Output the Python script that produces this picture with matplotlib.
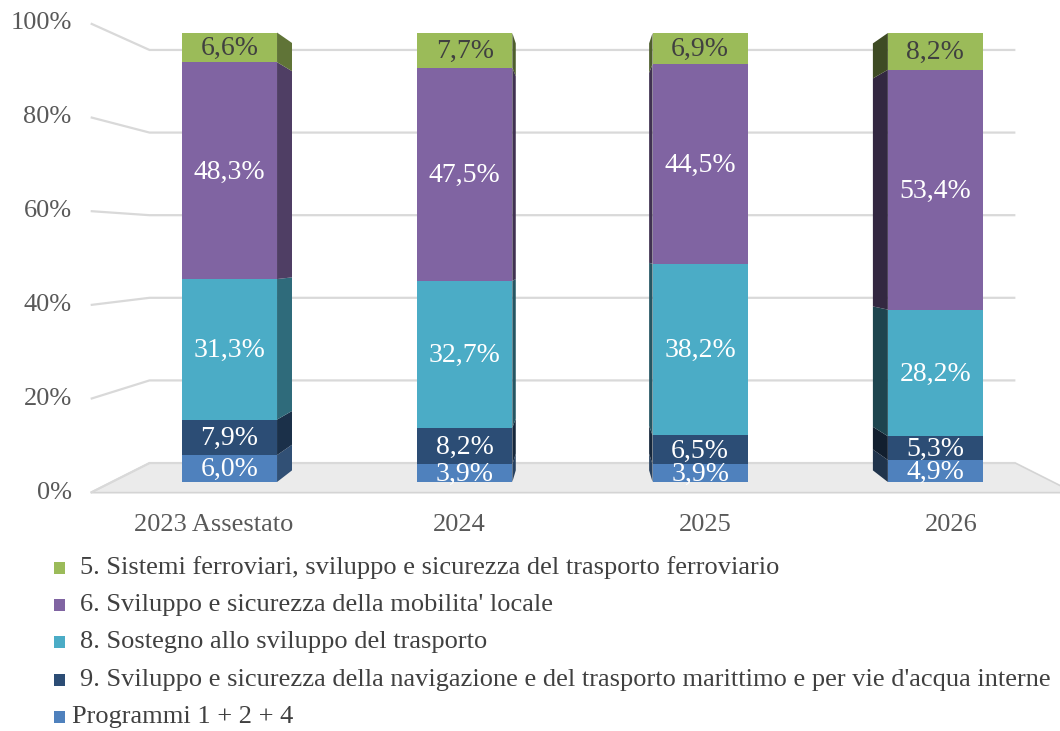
import matplotlib
matplotlib.use("Agg")
import matplotlib.pyplot as plt
from matplotlib.patches import Polygon, Rectangle
import numpy as np

plt.rcParams['font.family'] = ['Liberation Serif', 'DejaVu Serif']

# ---------------- data ----------------
categories = ["2023 Assestato", "2024", "2025", "2026"]
series_names = [
    "Programmi 1 + 2 + 4",
    "9. Sviluppo e sicurezza della navigazione e del trasporto marittimo e per vie d'acqua interne",
    "8. Sostegno allo sviluppo del trasporto",
    "6. Sviluppo e sicurezza della mobilita' locale",
    "5. Sistemi ferroviari, sviluppo e sicurezza del trasporto ferroviario",
]
prog_124 = [6.0, 3.9, 3.9, 4.9]
prog_9 = [7.9, 8.2, 6.5, 5.3]
prog_8 = [31.3, 32.7, 38.2, 28.2]
prog_6 = [48.3, 47.5, 44.5, 53.4]
prog_5 = [6.6, 7.7, 6.9, 8.2]
series_values = [prog_124, prog_9, prog_8, prog_6, prog_5]
colors = ["#4f81bd", "#2c4d75", "#4bacc6", "#8064a2", "#9bbb59"]
label_colors = ["white", "white", "white", "white", "#404040"]
yticks = [0, 20, 40, 60, 80, 100]

# ---------------- layout (perspective) ----------------
W, H = 1060, 731
fig = plt.figure(figsize=(W / 100, H / 100), dpi=100)
ax = fig.add_axes([0, 0, 1, 1])
ax.set_xlim(-0.9754, 3.5296)
ax.set_ylim(-55.46, 107.35)
ax.axis("off")

VPX, VPY = 1.5, 52.78
S_BAR_BACK = 0.951
S_WALL = 0.92
S_FRONT = 1.045
X0, X1 = -0.5, 3.5
BAR_W = 0.404


def proj(x, y, s):
    return VPX + (x - VPX) * s, VPY + (y - VPY) * s


grid_c = "#d9d9d9"

# floor
floor = [proj(X0, 0, S_FRONT), proj(X0, 0, S_WALL), proj(X1, 0, S_WALL), proj(X1, 0, S_FRONT)]
ax.add_patch(Polygon(floor, closed=True, facecolor="#ebebeb", edgecolor="#d4d4d4", lw=1.2, zorder=1))

# gridlines on back wall and side wall
for v in yticks:
    a = proj(X0, v, S_FRONT)
    b = proj(X0, v, S_WALL)
    c = proj(X1, v, S_WALL)
    ax.plot([a[0], b[0], c[0]], [a[1], b[1], c[1]], color=grid_c, lw=1.6, zorder=2,
            solid_capstyle="butt", solid_joinstyle="miter")
    ax.annotate(f"{v}%", xy=a, xytext=(-19, 0), textcoords="offset pixels",
                ha="right", va="center", fontsize=19, color="#595959")

# category labels
for i, cat in enumerate(categories):
    p = proj(i, 0, S_FRONT)
    ax.annotate(cat, xy=p, xytext=(0, -32), textcoords="offset pixels",
                ha="center", va="center", fontsize=19, color="#595959")


def shade(col, f):
    r, g, b = matplotlib.colors.to_rgb(col)
    return (r * f, g * f, b * f)


# bars
x = np.arange(len(categories))
bottom = np.zeros(len(categories))
for k, vals in enumerate(series_values):
    vals = np.array(vals)
    ax.bar(x, vals, bottom=bottom, width=BAR_W, color=colors[k], zorder=5, linewidth=0)
    for i in range(len(categories)):
        y0, y1 = bottom[i], bottom[i] + vals[i]
        if x[i] < VPX:
            xe = x[i] + BAR_W / 2
            f = 0.62 if x[i] < 0.5 else 0.5
        else:
            xe = x[i] - BAR_W / 2
            f = 0.4 if x[i] > 2.5 else 0.5
        poly = [proj(xe, y0, 1), proj(xe, y1, 1), proj(xe, y1, S_BAR_BACK), proj(xe, y0, S_BAR_BACK)]
        ax.add_patch(Polygon(poly, closed=True, facecolor=shade(colors[k], f), edgecolor="none", zorder=4))
        ax.text(x[i], (y0 + y1) / 2 - 0.3, f"{vals[i]:.1f}%".replace(".", ","), ha="center", va="center",
                fontsize=20, color=label_colors[k], zorder=6)
    bottom = bottom + vals

# legend (manual, top-to-bottom order)
leg_y = [568, 605, 642, 680, 717]
order = [4, 3, 2, 1, 0]
for row, k in enumerate(order):
    py = leg_y[row]
    fig.patches.append(Rectangle((54 / W, 1 - (py + 6) / H), 11 / W, 12 / H, transform=fig.transFigure,
                                 facecolor=colors[k], edgecolor="none"))
    tx = 80 if k != 0 else 72
    fig.text(tx / W, 1 - py / H, series_names[k], ha="left", va="center", fontsize=19.0, color="#404040")

fig.savefig("out.png", dpi=100)
